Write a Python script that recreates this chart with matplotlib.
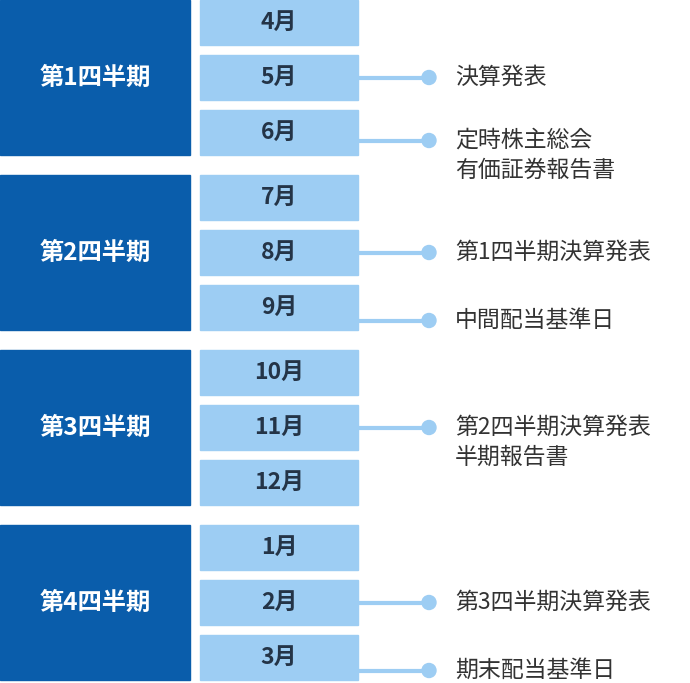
import matplotlib.pyplot as plt
from matplotlib.patches import Rectangle, Circle

plt.rcParams['font.family'] = 'Noto Sans CJK JP'

quarters = ['第1四半期', '第2四半期', '第3四半期', '第4四半期']
months = [['4月', '5月', '6月'], ['7月', '8月', '9月'],
          ['10月', '11月', '12月'], ['1月', '2月', '3月']]
# (quarter, month index, offset from month center, text lines)
events = [
    (0, 1, 0, ['決算発表']),
    (0, 2, 8, ['定時株主総会', '有価証券報告書']),
    (1, 1, 0, ['第1四半期決算発表']),
    (1, 2, 13, ['中間配当基準日']),
    (2, 1, 0, ['第2四半期決算発表', '半期報告書']),
    (3, 1, 0, ['第3四半期決算発表']),
    (3, 2, 13, ['期末配当基準日']),
]

dark = '#0a5dab'
light = '#9dcdf3'

fig = plt.figure(figsize=(6.9, 6.83), dpi=100)
ax = fig.add_axes([0, 0, 1, 1])
ax.set_xlim(0, 690)
ax.set_ylim(683, 0)
ax.axis('off')

q_h, q_gap = 155, 20
m_h, m_gap = 45, 10
for qi, (q, ms) in enumerate(zip(quarters, months)):
    top = qi * (q_h + q_gap)
    ax.add_patch(Rectangle((0, top), 190, q_h, color=dark))
    ax.text(95, top + q_h / 2, q, color='white', fontsize=17.5, fontweight='bold',
            ha='center', va='center')
    for mi, m in enumerate(ms):
        mt = top + mi * (m_h + m_gap)
        ax.add_patch(Rectangle((200, mt), 158, m_h, color=light))
        ax.text(279, mt + m_h / 2, m, color='#243447', fontsize=16.5, fontweight='bold',
                ha='center', va='center')

for qi, mi, off, lines in events:
    y = qi * (q_h + q_gap) + mi * (m_h + m_gap) + m_h / 2 + off
    ax.plot([358, 429], [y, y], color=light, lw=3, solid_capstyle='butt')
    ax.add_patch(Circle((429, y), 7, color=light))
    for li, t in enumerate(lines):
        ax.text(455, y + li * 30, t, color='#333333', fontsize=16.5,
                ha='left', va='center')

fig.savefig('out.png', dpi=100)
